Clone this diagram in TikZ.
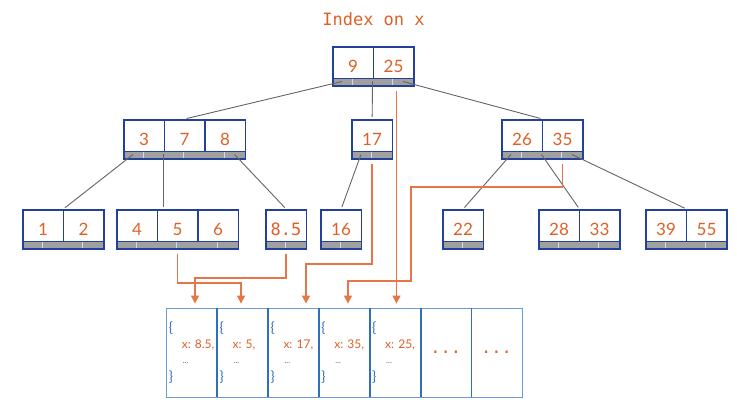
\documentclass[tikz,border=0pt]{standalone}
\usepackage{fontspec}
\setmainfont{Lato}
\setmonofont{DejaVu Sans Mono}
\usetikzlibrary{positioning, arrows.meta, calc}
\definecolor{cBlue}{RGB}{35,65,155}
\definecolor{cKey}{RGB}{222,96,38}
\definecolor{cWire}{RGB}{230,118,72}
\definecolor{cGrey}{RGB}{160,160,160}
\definecolor{cEdge}{RGB}{100,100,100}
\definecolor{cDoc}{RGB}{50,110,190}
\definecolor{cDocEdge}{RGB}{105,155,215}

\tikzset{
  keycell/.style={draw=cBlue, line width=1.5pt, minimum width=40.5pt, minimum height=32pt,
    inner sep=0pt, anchor=north west, text=cKey, text height=19pt, text depth=0pt,
    font=\fontsize{17}{20}\selectfont},
  btbox/.style={draw=cBlue, line width=1.8pt, minimum height=39pt, inner sep=0pt},
  stripdiv/.style={draw=white!80!cBlue, line width=0.8pt},
  treeedge/.style={draw=cEdge, line width=0.9pt, shorten >=2pt},
  dataptr/.style={draw=cWire, line width=1.3pt, -{Triangle[length=8pt,width=8pt]}, shorten >=4pt},
  doccell/.style={draw=cDocEdge, line width=0.8pt, minimum width=50.86pt, minimum height=89pt, inner sep=0pt},
  docdiv/.style={draw=cDoc, line width=1.8pt},
  docbrace/.style={text=cDoc, font=\fontsize{14}{16}\selectfont, inner sep=0pt, anchor=base west},
  docfield/.style={text=cKey, font=\fontsize{12}{14}\selectfont, inner sep=0pt, anchor=base west},
  docmore/.style={text=cDoc, font=\fontsize{8}{10}\selectfont, inner sep=0pt, anchor=base west},
  title/.style={text=cKey, font=\ttfamily\fontsize{17}{20}\selectfont, inner sep=0pt}
}

% B-tree node: name, number of keys, x, y (top left), keys
\newcommand{\btnode}[5]{%
  \fill[cGrey] (#3,#4+32) rectangle ++({#2*40.5},7);
  \foreach \j in {1,...,#2}
    \draw[stripdiv] ({#3+(\j-0.5)*40.5},#4+32) -- ++(0,7);
  \foreach \k [count=\i] in {#5}
    \node[keycell] (#1-\i) at ({#3+(\i-1)*40.5},#4) {\k};
  \node[btbox, minimum width=#2*40.5pt, anchor=north west] (#1) at (#3,#4) {};
  \coordinate (#1-p0) at (#3+10,#4+35.5);
  \foreach \j in {1,...,#2}
    \coordinate (#1-p\j) at ({#3+\j*40.5},#4+35.5);
  \coordinate (#1-p#2) at ({#3+#2*40.5-10},#4+35.5);
}

% document cell contents: cell name, value
\newcommand{\docfields}[2]{%
  \node[docbrace] (#1-open) at ($(#1.north west)+(3,25)$) {\{};
  \node[docfield] (#1-x) at ($(#1.north west)+(16,41)$) {x: #2,};
  \node[docmore] (#1-more) at ($(#1.north west)+(17,56)$) {...};
  \node[docbrace] (#1-close) at ($(#1.north west)+(3,74)$) {\}};
}

\begin{document}
\begin{tikzpicture}[x=1pt, y=-1pt]
  \useasboundingbox (0,0) rectangle (737,406);

  \node[title, anchor=base] (title) at (373.5,26) {Index on x};

  % --- tree nodes ---
  \btnode{root}{2}{332}{46}{9,25}
  \btnode{n378}{3}{123}{119}{3,7,8}
  \btnode{n17}{1}{351}{119}{17}
  \btnode{n2635}{2}{501}{119}{26,35}
  \btnode{n12}{2}{22}{209}{1,2}
  \btnode{n456}{3}{116}{209}{4,5,6}
  \btnode{n85}{1}{265}{209}{{\ttfamily 8.5}}
  \btnode{n16}{1}{320}{209}{16}
  \btnode{n22}{1}{442}{209}{22}
  \btnode{n2833}{2}{538}{209}{28,33}
  \btnode{n3955}{2}{645}{209}{39,55}

  % --- tree edges ---
  \draw[treeedge] (root-p0) -- (n378.north);
  \draw[treeedge] (root-p1) -- (n17.north);
  \draw[treeedge] (root-p2) -- (n2635.north);
  \draw[treeedge] (n378-p0) -- (n12.north);
  \draw[treeedge] (n378-p1) -- (n378-p1 |- n456.north);
  \draw[treeedge] (n378-p3) -- (n85.north);
  \draw[treeedge] (n17-p0) -- (n16.north);
  \draw[treeedge] (n2635-p0) -- (n22.north);
  \draw[treeedge] (n2635-p1) -- (n2833.north);
  \draw[treeedge] (n2635-p2) -- (n3955.north);

  % --- documents ---
  \foreach \i in {1,...,7}
    \node[doccell] (doc\i) at ({166+(\i-0.5)*50.86},352.5) {};
  \foreach \i in {1,...,6}
    \draw[docdiv] (doc\i.north east) -- (doc\i.south east);
  \docfields{doc1}{8.5}
  \docfields{doc2}{5}
  \docfields{doc3}{17}
  \docfields{doc4}{35}
  \docfields{doc5}{25}
  \node[title] (doc6-dots) at (doc6) {...};
  \node[title] (doc7-dots) at (doc7) {...};

  % --- pointers to documents ---
  \coordinate (lane85) at (195,278);
  \coordinate (lane5) at (241,283);
  \coordinate (lane17) at (306,264);
  \coordinate (lane35a) at (411,187);
  \coordinate (lane35b) at (348,281);
  \draw[dataptr] ($(n85-1 |- n85.south)+(0,4)$) |- (lane85) -- (lane85 |- doc1.north);
  \draw[dataptr] ($(n456-2 |- n456.south)+(0,4)$) |- (lane5) -- (lane5 |- doc2.north);
  \draw[dataptr] ($(n17-1 |- n17.south)+(0,4)$) |- (lane17) -- (lane17 |- doc3.north);
  \draw[dataptr] ($(n2635-2 |- n2635.south)+(0,4)$) |- (lane35a) |- (lane35b) -- (lane35b |- doc4.north);
  \draw[dataptr] ($(root-2 |- root.south)+(3,4)$) -- ($(root-2 |- doc5.north)+(3,0)$);
\end{tikzpicture}
\end{document}
